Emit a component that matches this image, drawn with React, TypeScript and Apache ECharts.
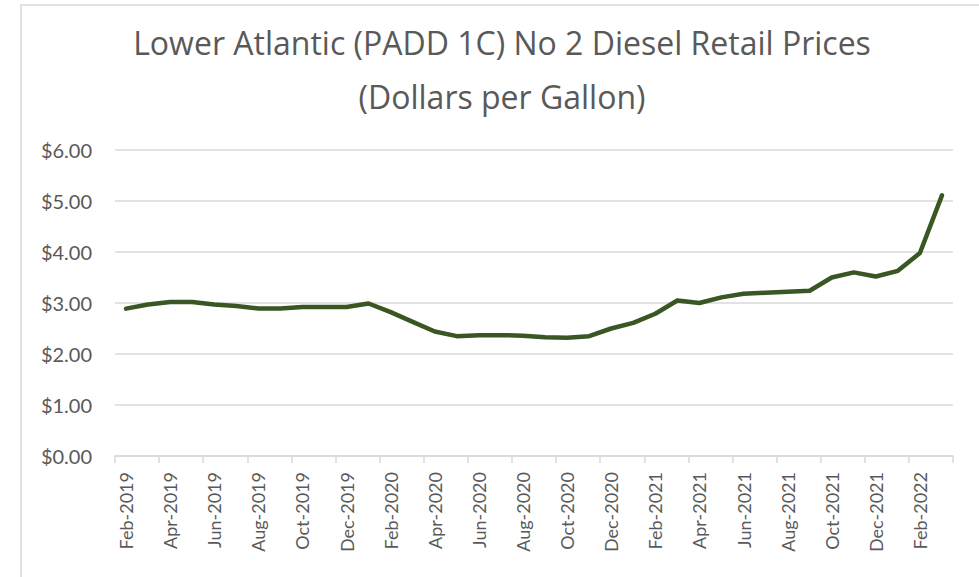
import React, { useEffect, useRef } from "react";
import * as echarts from "echarts";

const titleLines = ["Lower Atlantic (PADD 1C) No 2 Diesel Retail Prices", "(Dollars per Gallon)"];

const months = [
  "Feb-2019", "Mar-2019", "Apr-2019", "May-2019", "Jun-2019", "Jul-2019", "Aug-2019", "Sep-2019",
  "Oct-2019", "Nov-2019", "Dec-2019", "Jan-2020", "Feb-2020", "Mar-2020", "Apr-2020", "May-2020",
  "Jun-2020", "Jul-2020", "Aug-2020", "Sep-2020", "Oct-2020", "Nov-2020", "Dec-2020", "Jan-2021",
  "Feb-2021", "Mar-2021", "Apr-2021", "May-2021", "Jun-2021", "Jul-2021", "Aug-2021", "Sep-2021",
  "Oct-2021", "Nov-2021", "Dec-2021", "Jan-2022", "Feb-2022", "Mar-2022",
];

const prices = [
  2.89, 2.97, 3.02, 3.02, 2.97, 2.94, 2.89, 2.89,
  2.92, 2.92, 2.92, 2.99, 2.82, 2.63, 2.44, 2.35,
  2.37, 2.37, 2.36, 2.33, 2.32, 2.35, 2.50, 2.61,
  2.79, 3.05, 3.00, 3.11, 3.18, 3.20, 3.22, 3.24,
  3.50, 3.60, 3.52, 3.63, 3.98, 5.11,
];

const yMin = 0;
const yMax = 6;
const yStep = 1;

export default function App() {
  const ref = useRef<HTMLDivElement>(null);
  useEffect(() => {
    if (!ref.current) return;
    const chart = echarts.init(ref.current, undefined, { renderer: "svg" });
    const textColor = "#595959";
    const gridColor = "#d9d9d9";
    chart.setOption({
      animation: false,
      backgroundColor: "#ffffff",
      graphic: [
        {
          type: "rect",
          shape: { x: 21, y: 5, width: 1000, height: 700 },
          style: { fill: "none", stroke: gridColor, lineWidth: 1.5 },
          silent: true,
        },
        {
          type: "text",
          x: 502,
          y: 15,
          style: {
            text: titleLines.join("\n"),
            fontFamily: "Open Sans",
            fontSize: 32,
            lineHeight: 54,
            fill: textColor,
            align: "center",
            verticalAlign: "top",
          },
        },
      ],
      grid: { left: 115, right: 26, top: 150, bottom: 121, containLabel: false },
      xAxis: {
        type: "category",
        data: months,
        boundaryGap: true,
        axisLine: { lineStyle: { color: gridColor, width: 1.5 } },
        axisTick: { show: true, interval: 1, length: 7, lineStyle: { color: gridColor, width: 1.5 } },
        axisLabel: {
          interval: 1,
          rotate: 90,
          margin: 16,
          color: textColor,
          fontFamily: "Lato",
          fontSize: 18,
        },
      },
      yAxis: {
        type: "value",
        min: yMin,
        max: yMax,
        interval: yStep,
        axisLine: { show: false },
        axisTick: { show: false },
        splitLine: { lineStyle: { color: gridColor, width: 1.5 } },
        axisLabel: {
          margin: 23,
          color: textColor,
          fontFamily: "Lato",
          fontSize: 20,
          formatter: (v: number) => "$" + v.toFixed(2),
        },
      },
      series: [
        {
          type: "line",
          data: prices,
          showSymbol: false,
          smooth: false,
          lineStyle: { color: "#385723", width: 4.5, cap: "round", join: "round" },
        },
      ],
    });
    return () => chart.dispose();
  }, []);
  return (
    <div
      ref={ref}
      style={{ position: "absolute", left: 0, top: 0, width: 979, height: 577 }}
    />
  );
}
